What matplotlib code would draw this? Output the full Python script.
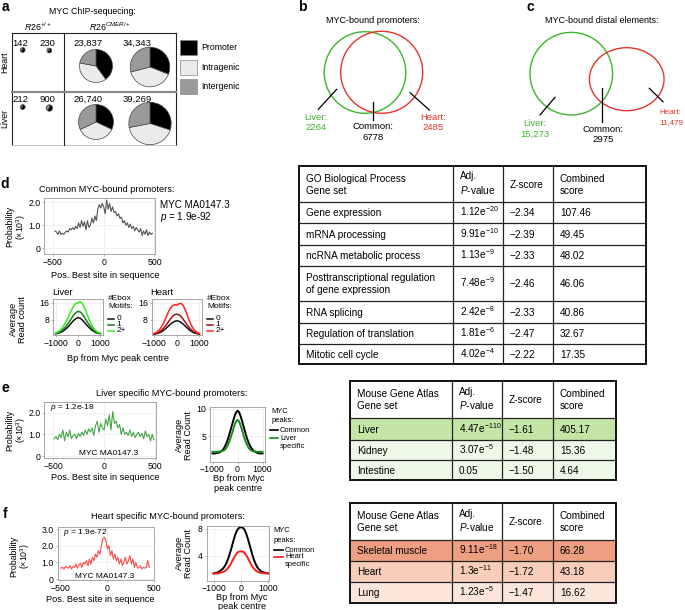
import matplotlib
matplotlib.use("Agg")
import matplotlib.pyplot as plt
import numpy as np
from matplotlib.patches import Circle, Ellipse, Rectangle

plt.rcParams["font.family"] = ["Liberation Sans", "DejaVu Sans"]
plt.rcParams["font.size"] = 6.3
plt.rcParams["mathtext.fontset"] = "custom"
plt.rcParams["mathtext.rm"] = "Liberation Sans"
plt.rcParams["mathtext.it"] = "Liberation Sans:italic"
plt.rcParams["mathtext.bf"] = "Liberation Sans:bold"

W, H = 685, 610

# ---------------- data ----------------
# a: MYC ChIP-seq peaks (R26+/+ x2, R26CMER/+ x2)
heart_peaks = [142, 230, 23837, 34343]
liver_peaks = [212, 900, 26740, 39269]
peak_classes = ["Promoter", "Intragenic", "Intergenic"]
heart_fracs = [[70, 15, 15], [70, 15, 15], [40, 38, 22], [31, 40, 29]]
liver_fracs = [[70, 15, 15], [62, 13, 25], [32, 36, 32], [30, 42, 28]]

# b, c: venn counts
prom_liver, prom_common, prom_heart = 2264, 6778, 2485
dist_liver, dist_common, dist_heart = 15273, 2975, 11479

# d: motif probability, common promoters
common_prob = [0.75, 0.7, 0.6, 0.75, 0.6, 0.65, 0.6, 0.7, 0.75, 0.7, 0.85, 0.8, 0.9, 0.8,
               0.95, 0.85, 1.1, 0.9, 1.2, 0.95, 1.15, 0.8, 1.2, 0.9, 1.0, 1.3, 1.1, 1.4,
               1.2, 1.7, 1.9, 1.75, 1.95, 1.8, 1.5, 2.1, 1.7, 1.95, 1.6, 1.8, 1.55, 1.6,
               1.4, 1.5, 1.3, 1.35, 1.1, 1.2, 1.0, 1.1, 0.9, 1.05, 0.85, 0.95, 0.75, 0.9,
               0.8, 0.7, 0.85, 0.55, 0.75, 0.6, 0.8, 0.55, 0.7, 0.6, 0.65]

# d: average read count by number of E-box motifs (bp -1000..1000, step 100)
ebox_labels = ["0", "1", "2+"]
liver_ebox0 = [1.5, 1.7, 2.0, 2.5, 3.2, 4.1, 5.2, 6.4, 7.6, 8.5, 9.0, 8.7, 7.8, 6.6, 5.4, 4.3, 3.3, 2.6, 2.0, 1.7, 1.5]
liver_ebox1 = [1.6, 1.9, 2.4, 3.1, 4.1, 5.4, 6.9, 8.5, 10.0, 11.3, 11.9, 11.6, 10.5, 8.9, 7.2, 5.6, 4.3, 3.2, 2.4, 1.9, 1.6]
liver_ebox2 = [1.8, 2.3, 3.0, 4.2, 5.8, 7.8, 10.0, 12.3, 14.3, 15.6, 15.9, 16.4, 15.4, 13.3, 10.7, 8.0, 5.7, 4.0, 2.8, 2.1, 1.8]
heart_ebox0 = [1.3, 1.5, 1.8, 2.2, 2.9, 3.7, 4.7, 5.7, 6.6, 7.2, 7.5, 7.3, 6.7, 5.8, 4.8, 3.8, 2.9, 2.2, 1.8, 1.5, 1.3]
heart_ebox1 = [1.4, 1.7, 2.1, 2.8, 3.8, 5.0, 6.5, 8.0, 9.4, 10.3, 10.6, 10.3, 9.4, 8.0, 6.5, 5.0, 3.8, 2.8, 2.1, 1.7, 1.4]
heart_ebox2 = [1.6, 2.1, 2.9, 4.2, 6.0, 8.3, 10.8, 13.0, 14.4, 15.0, 14.8, 15.4, 15.6, 14.4, 12.0, 9.0, 6.4, 4.3, 2.9, 2.1, 1.6]

# e: liver specific
liver_prob = [0.8, 0.9, 0.75, 1.0, 0.85, 1.2, 0.7, 1.1, 0.9, 1.2, 0.8, 0.95, 1.0, 0.8, 1.05,
              0.9, 1.1, 0.95, 1.2, 1.0, 1.25, 1.1, 1.3, 0.95, 1.4, 1.6, 1.1, 1.5, 1.3, 1.2,
              1.7, 1.4, 1.9, 1.2, 2.05, 1.5, 1.6, 1.3, 1.45, 1.0, 1.3, 1.0, 1.1, 0.95, 1.2,
              0.9, 1.1, 0.85, 1.0, 1.1, 0.9, 1.05, 0.8, 1.15, 0.9, 1.0, 0.7, 1.0, 0.75]
# bp -1000..1000, step 50
e_common = [1.9, 1.9, 1.9, 1.95, 2.0, 2.05, 2.15, 2.3, 2.5, 2.8, 3.2, 3.7, 4.3, 5.0, 5.8, 6.6,
            7.4, 8.2, 8.9, 9.4, 9.65, 9.5, 9.0, 8.3, 7.5, 6.7, 5.9, 5.1, 4.4, 3.8, 3.3, 2.9,
            2.6, 2.35, 2.2, 2.1, 2.0, 1.95, 1.9, 1.9, 1.9]
e_specific = [2.2, 2.2, 2.2, 2.2, 2.2, 2.2, 2.25, 2.3, 2.35, 2.45, 2.6, 2.9, 3.3, 3.8, 4.4, 5.1,
              5.8, 6.6, 7.3, 7.8, 8.0, 7.8, 7.3, 6.6, 5.9, 5.1, 4.4, 3.8, 3.3, 2.9, 2.6, 2.45,
              2.35, 2.3, 2.25, 2.2, 2.2, 2.2, 2.2, 2.2, 2.2]

# f: heart specific
heart_prob = [0.65, 0.7, 0.6, 0.75, 0.7, 0.65, 0.8, 0.6, 0.75, 0.7, 0.9, 0.65, 0.85, 0.95, 0.7,
              1.0, 0.9, 1.1, 0.8, 1.2, 0.9, 1.3, 1.1, 1.5, 1.3, 1.7, 1.5, 2.0, 2.4, 2.5, 2.3,
              1.8, 2.0, 1.4, 1.7, 1.2, 1.5, 1.1, 1.3, 0.9, 1.2, 0.8, 1.0, 1.3, 0.9, 1.1, 1.4,
              0.9, 1.2, 0.7, 1.0, 0.7, 0.65, 0.8, 0.6, 0.7, 0.65, 0.7, 1.1, 0.7]
f_common = [1.3, 1.35, 1.4, 1.45, 1.55, 1.7, 1.85, 2.05, 2.3, 2.65, 3.1, 3.65, 4.3, 5.0, 5.75,
            6.5, 7.15, 7.65, 8.0, 8.2, 8.25, 8.25, 8.1, 7.8, 7.3, 6.7, 6.0, 5.25, 4.5, 3.8,
            3.2, 2.7, 2.3, 2.0, 1.8, 1.6, 1.5, 1.45, 1.4, 1.35, 1.3]
f_specific = [1.3, 1.3, 1.3, 1.32, 1.35, 1.4, 1.45, 1.5, 1.6, 1.75, 1.95, 2.2, 2.5, 2.85, 3.25,
              3.65, 4.0, 4.3, 4.5, 4.6, 4.62, 4.62, 4.55, 4.35, 4.05, 3.7, 3.3, 2.9, 2.5, 2.2,
              1.95, 1.75, 1.6, 1.5, 1.42, 1.38, 1.35, 1.32, 1.3, 1.3, 1.3]

# tables
go_sets = ["Gene expression", "mRNA processing", "ncRNA metabolic process",
           "Posttranscriptional regulation\nof gene expression", "RNA splicing",
           "Regulation of translation", "Mitotic cell cycle"]
go_pvals = ["1.12e$^{-20}$", "9.91e$^{-10}$", "1.13e$^{-9}$", "7.48e$^{-9}$",
            "2.42e$^{-8}$", "1.81e$^{-6}$", "4.02e$^{-4}$"]
go_z = [-2.34, -2.39, -2.33, -2.46, -2.33, -2.47, -2.22]
go_scores = [107.46, 49.45, 48.02, 46.06, 40.86, 32.67, 17.35]

liver_sets = ["Liver", "Kidney", "Intestine"]
liver_pvals = ["4.47e$^{-110}$", "3.07e$^{-5}$", "0.05"]
liver_z = [-1.61, -1.48, -1.50]
liver_scores = [405.17, 15.36, 4.64]

heart_sets = ["Skeletal muscle", "Heart", "Lung"]
heart_pvals = ["9.11e$^{-18}$", "1.3e$^{-11}$", "1.23e$^{-5}$"]
heart_z = [-1.70, -1.72, -1.47]
heart_scores = [66.28, 43.18, 16.62]

# ---------------- helpers ----------------
fig = plt.figure(figsize=(W / 100, H / 100), dpi=100)


def px_axes(x0, y0, x1, y1):
    return fig.add_axes([x0 / W, 1 - y1 / H, (x1 - x0) / W, (y1 - y0) / H])


ov = px_axes(0, 0, W, H)
ov.set_xlim(0, W)
ov.set_ylim(H, 0)
ov.axis("off")
ov.set_zorder(5)


def txt(x, y, s, ha="center", va="center", **kw):
    ov.text(x, y, s, ha=ha, va=va, **kw)


def fmt_n(n):
    return f"{n:,}" if n >= 10000 else str(n)


def style_ax(ax):
    for sp in ax.spines.values():
        sp.set_color("#9a9a9a")
        sp.set_linewidth(0.6)
    ax.tick_params(length=1.5, width=0.5, color="#9a9a9a", pad=1.2, labelsize=6.3)
    ax.grid(True, color="#ececec", lw=0.5)
    ax.set_axisbelow(True)


def panel_label(x, y, s):
    txt(x, y, s, weight="bold", fontsize=10)


def ylab(x, y, s, fs=6.3):
    txt(x, y, s, rotation=90, multialignment="center", linespacing=1.0, fontsize=fs)


# ---------------- panel a ----------------
panel_label(5, 7, "a")
txt(92, 11, "MYC ChIP-sequecing:")
txt(38, 27, r"$\mathit{R26}^{\mathit{+/+}}$")
txt(110, 27, r"$\mathit{R26}^{\mathit{CMER/+}}$")
for xs, ys, c, lw in [([11.7, 175.7], [33.3, 33.3], "#222", 0.8),
                      ([11.7, 11.7], [33.3, 145], "#222", 0.8),
                      ([175.7, 175.7], [33.3, 145], "#222", 0.8),
                      ([11.7, 175.7], [145, 145], "#bbb", 0.6),
                      ([64, 64], [33.3, 145], "#222", 0.8),
                      ([11.7, 175.7], [92.3, 92.3], "#888", 1.6)]:
    ov.plot(xs, ys, color=c, lw=lw)
txt(5, 62, "Heart", rotation=90)
txt(5, 118, "Liver", rotation=90)

pie_colors = ["#000000", "#ebebeb", "#9a9a9a"]
col_x = [22.7, 49.3, 96, 150]
lab_x = [20.7, 47.5, 88.3, 137]
for counts, fracs, pie_y, lab_y in [(heart_peaks, heart_fracs, [50, 50.5, 66, 67], 43),
                                    (liver_peaks, liver_fracs, [107, 108, 122, 123.5], 99)]:
    for i, (n, fr) in enumerate(zip(counts, fracs)):
        txt(lab_x[i], lab_y, fmt_n(n), fontsize=6.8)
        r = max(2.4, 16.5 * np.sqrt(n / 23837))
        side = 2.5 * r
        ap = px_axes(col_x[i] - side / 2, pie_y[i] - side / 2, col_x[i] + side / 2, pie_y[i] + side / 2)
        ap.pie(fr, colors=pie_colors, startangle=90, counterclock=False,
               wedgeprops=dict(edgecolor="#444444", linewidth=0.5))

for k, (name, y0) in enumerate(zip(peak_classes, [40, 60, 79])):
    ov.add_patch(Rectangle((180, y0), 16.7, 15, fc=pie_colors[k], ec="#888", lw=0.5))
    txt(201.7, y0 + 7.5, name, ha="left", fontsize=6.3)

# ---------------- panel b ----------------
green, red = "#3db52a", "#e2352b"
panel_label(302, 7, "b")
txt(373.3, 20.7, "MYC-bound promoters:", fontsize=6.5)
ov.add_patch(Circle((365, 72.5), 40.8, fill=False, ec=green, lw=1.0))
ov.add_patch(Circle((381.7, 72.3), 41, fill=False, ec=red, lw=1.0))
ov.plot([336.7, 318.3], [89.3, 109.3], color="k", lw=0.9)
ov.plot([373.3, 373.3], [101.7, 120], color="k", lw=0.9)
ov.plot([410, 429.3], [92.7, 110], color="k", lw=0.9)
txt(316, 117.3, "Liver:", color=green, fontsize=6.8)
txt(316, 127.7, fmt_n(prom_liver), color=green, fontsize=6.8)
txt(373.3, 126.7, "Common:", fontsize=6.8)
txt(373.3, 137.3, fmt_n(prom_common), fontsize=6.8)
txt(432.7, 117.3, "Heart:", color=red, fontsize=6.8)
txt(432.7, 127.7, fmt_n(prom_heart), color=red, fontsize=6.8)

# ---------------- panel c ----------------
panel_label(530, 7, "c")
txt(601.7, 20.7, "MYC-bound distal elements:", fontsize=6.5)
ov.add_patch(Circle((571.3, 73.7), 41.3, fill=False, ec=green, lw=1.0))
ov.add_patch(Ellipse((626.7, 79.2), 74.7, 63, fill=False, ec=red, lw=1.0))
ov.plot([555, 540], [97.3, 115], color="k", lw=0.9)
ov.plot([601.7, 601.7], [88.3, 121.7], color="k", lw=0.9)
ov.plot([649.3, 663], [88.3, 101.7], color="k", lw=0.9)
txt(535, 124, "Liver:", color=green, fontsize=6.8)
txt(535, 134.7, fmt_n(dist_liver), color=green, fontsize=6.8)
txt(602.7, 129.3, "Common:", fontsize=6.8)
txt(602.7, 140, fmt_n(dist_common), fontsize=6.8)
txt(659.5, 112.7, "Heart:", ha="left", color=red, fontsize=5.8)
txt(659.5, 123, fmt_n(dist_heart), ha="left", color=red, fontsize=5.8)

# ---------------- panel d ----------------
panel_label(5, 183.5, "d")
txt(106.7, 189.3, "Common MYC-bound promoters:", fontsize=6.6)
ax = px_axes(44.3, 197.7, 155, 254.3)
ax.plot(np.linspace(-480, 480, len(common_prob)), common_prob, color="#555555", lw=0.8)
ax.set_xlim(-585, 505)
ax.set_ylim(-0.27, 2.2)
ax.set_xticks([-500, 0, 500])
ax.set_yticks([0, 1, 2], ["0", "1.0", "2.0"])
style_ax(ax)
txt(160, 205.3, "MYC MA0147.3", ha="left", fontsize=7.1)
txt(160, 216.5, r"$\mathit{p}$ = 1.9e-92", ha="left", fontsize=7.1)
ylab(17, 226.7, "Probability\n(×10$^3$)")
txt(105, 275.7, "Pos. Best site in sequence", fontsize=6.6)

bp21 = np.arange(-1000, 1001, 100)
for (x0, x1), name, series, cols in [
        ((53.3, 102.7), "Liver", [liver_ebox0, liver_ebox1, liver_ebox2], ["#111111", "#1e7d1e", "#33ee22"]),
        ((151.7, 201.7), "Heart", [heart_ebox0, heart_ebox1, heart_ebox2], ["#111111", "#a01414", "#ff2222"])]:
    axl = px_axes(x0, 299.3, x1, 335)
    for s, c in zip(series, cols):
        axl.plot(bp21, s, color=c, lw=1.1)
    axl.set_xlim(-1100, 1100)
    axl.set_ylim(0.9, 17.5)
    axl.set_xticks([-1000, 0, 1000])
    axl.set_yticks([8, 16])
    style_ax(axl)
    txt(x0 - 1.5, 292.3, name, ha="left", fontsize=6.8)
    lx = x1 + 5.6
    txt(lx, 298.3, "#Ebox", ha="left", fontsize=6.0)
    txt(lx, 306.7, "Motifs:", ha="left", fontsize=6.0)
    for lab, c, yy in zip(ebox_labels, cols, [318.7, 324.5, 330.5]):
        ov.plot([lx, lx + 6.2], [yy, yy], color=c, lw=1.1)
        txt(lx + 8.4, yy, lab, ha="left", fontsize=6.0)
txt(118.3, 358.3, "Bp from Myc peak centre", fontsize=6.6)
ylab(18, 319.3, "Average\nRead count", fs=6.6)

# ---------------- panel e ----------------
bp41 = np.arange(-1000, 1001, 50)
panel_label(5, 388, "e")
txt(171.7, 393.3, "Liver specific MYC-bound promoters:", fontsize=6.6)
ax = px_axes(44.3, 401.7, 156, 458.3)
ax.plot(np.linspace(-490, 490, len(liver_prob)), liver_prob, color="#45a445", lw=0.8)
ax.set_xlim(-588, 510)
ax.set_ylim(-0.1, 2.5)
ax.set_xticks([-500, 0, 500])
ax.set_yticks([0, 1, 2], ["0", "1.0", "2.0"])
style_ax(ax)
txt(50, 407.7, r"$\mathit{p}$ = 1.2e-18", ha="left", fontsize=6.0)
txt(108.3, 453.5, "MYC MA0147.3", fontsize=6.0)
ylab(17, 430, "Probability\n(×10$^3$)")
txt(105, 477.7, "Pos. Best site in sequence", fontsize=6.6)

ax = px_axes(210, 406.7, 265, 461.7)
ax.plot(bp41, e_common, color="#000000", lw=1.4)
ax.plot(bp41, e_specific, color="#1a8a1a", lw=1.4)
ax.set_xlim(-1100, 1100)
ax.set_ylim(0.4, 10.4)
ax.set_xticks([-1000, 0, 1000])
ax.set_yticks([5, 10])
style_ax(ax)
ylab(184, 435, "Average\nRead Count", fs=6.6)
txt(238.3, 483.5, "Bp from Myc\npeak centre", multialignment="center", linespacing=1.05, fontsize=6.6)
txt(271.7, 411.7, "MYC", ha="left", fontsize=5.4)
txt(271.7, 420, "peaks:", ha="left", fontsize=5.4)
ov.plot([270, 278.3], [430, 430], color="#000000", lw=1.2)
txt(280, 430, "Common", ha="left", fontsize=5.4)
ov.plot([270, 278.3], [438.3, 438.3], color="#1a8a1a", lw=1.2)
txt(280, 438.3, "Liver", ha="left", fontsize=5.4)
txt(280, 446, "specific", ha="left", fontsize=5.4)

# ---------------- panel f ----------------
panel_label(5, 514, "f")
txt(168.3, 516.7, "Heart specific MYC-bound promoters:", fontsize=6.6)
ax = px_axes(57.7, 526.7, 154.3, 580)
ax.plot(np.linspace(-490, 450, len(heart_prob)), heart_prob, color="#ff4a4a", lw=0.8)
ax.set_xlim(-525, 503)
ax.set_ylim(-0.06, 3.14)
ax.set_xticks([-500, 0, 500])
ax.set_yticks([0, 1, 2, 3], ["0", "1.0", "2.0", "3.0"])
style_ax(ax)
txt(63.3, 532.7, r"$\mathit{p}$ = 1.9e-72", ha="left", fontsize=6.0)
txt(105, 577, "MYC MA0147.3", fontsize=6.0)
ylab(21, 556, "Probability\n(×10$^3$)")
txt(100, 599.3, "Pos. Best site in sequence", fontsize=6.6)

ax = px_axes(206.7, 526, 269.3, 580.7)
ax.plot(bp41, f_common, color="#000000", lw=1.4)
ax.plot(bp41, f_specific, color="#ff1a1a", lw=1.4)
ax.set_xlim(-1250, 1050)
ax.set_ylim(0.2, 8.45)
ax.set_xticks([-1000, 0, 1000])
ax.set_yticks([4, 8])
style_ax(ax)
ylab(184, 553, "Average\nRead Count", fs=6.6)
txt(241.7, 601.8, "Bp from Myc\npeak centre", multialignment="center", linespacing=1.0, fontsize=6.6)
txt(273.3, 531, "MYC", ha="left", fontsize=5.4)
txt(273.3, 541, "peaks:", ha="left", fontsize=5.4)
ov.plot([274, 283], [550, 550], color="#000000", lw=1.2)
txt(285, 550, "Common", ha="left", fontsize=5.4)
ov.plot([274, 283], [557, 557], color="#ff1a1a", lw=1.2)
txt(285, 557, "Heart", ha="left", fontsize=5.4)
txt(285, 565, "specific", ha="left", fontsize=5.4)


# ---------------- tables ----------------
def draw_table(xs, ys, header, sets, pvals, zs, scores, fills, fs=7.2):
    for i, fc in enumerate(fills):
        ov.add_patch(Rectangle((xs[0], ys[i + 1]), xs[-1] - xs[0], ys[i + 2] - ys[i + 1],
                               fc=fc, ec="none"))
    for y in ys[1:-1]:
        ov.plot([xs[0], xs[-1]], [y, y], color="#222", lw=0.9)
    for x in xs[1:-1]:
        ov.plot([x, x], [ys[0], ys[-1]], color="#222", lw=0.9)
    ov.add_patch(Rectangle((xs[0], ys[0]), xs[-1] - xs[0], ys[-1] - ys[0],
                           fill=False, ec="#111", lw=1.4))
    rows = [header] + [[s, p, f"{z:.2f}".replace("-", "\u2212"), f"{c:.2f}"]
                       for s, p, z, c in zip(sets, pvals, zs, scores)]
    lh = 12.7
    for r, row in enumerate(rows):
        yc = (ys[r] + ys[r + 1]) / 2
        for c, s in enumerate(row):
            n = s.count("\n") + 1
            yb = yc + (n - 1) * lh / 2 + 3.6
            ov.text(xs[c] + 7, yb, s, ha="left", va="baseline", fontsize=fs,
                    linespacing=1.27)


tab_header = ["Adj.\n$\\mathit{P}$-value", "Z-score", "Combined\nscore"]
draw_table([299, 453, 503, 553, 646], [166, 202, 223, 245, 266, 301, 323, 344, 364],
           ["GO Biological Process\nGene set"] + tab_header,
           go_sets, go_pvals, go_z, go_scores, ["white"] * 7)
draw_table([350, 452, 502, 553, 616], [381, 418, 440, 460, 480],
           ["Mouse Gene Atlas\nGene set"] + tab_header,
           liver_sets, liver_pvals, liver_z, liver_scores, ["#c5e5a6", "#eef8e7", "#eef8e7"])
draw_table([350, 452, 502, 553, 616], [503, 540, 561, 582, 603],
           ["Mouse Gene Atlas\nGene set"] + tab_header,
           heart_sets, heart_pvals, heart_z, heart_scores, ["#ee9f82", "#f8cdb9", "#fce6dc"])

fig.savefig("out.png", dpi=100)
